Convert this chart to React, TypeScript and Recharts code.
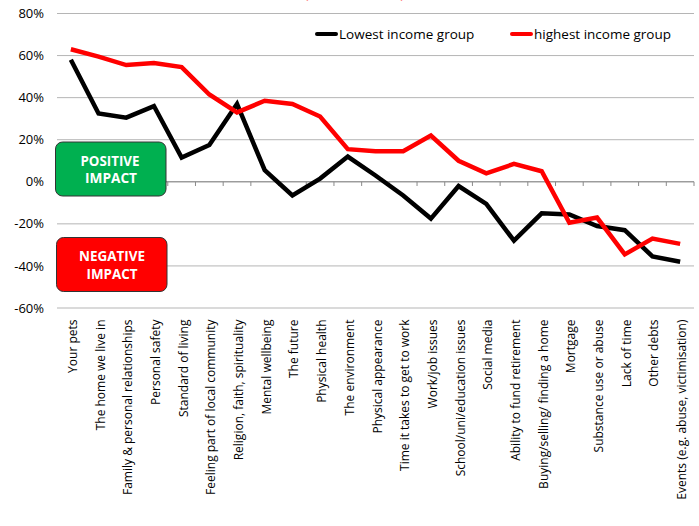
import React from 'react';
import { LineChart, Line, XAxis, YAxis, CartesianGrid, ReferenceLine } from 'recharts';

const categories = [
  'Your pets',
  'The home we live in',
  'Family & personal relationships',
  'Personal safety',
  'Standard of living',
  'Feeling part of local community',
  'Religion, faith, spirituality',
  'Mental wellbeing',
  'The future',
  'Physical health',
  'The environment',
  'Physical appearance',
  'Time it takes to get to work',
  'Work/job issues',
  'School/uni/education issues',
  'Social media',
  'Ability to fund retirement',
  'Buying/selling/ finding a home',
  'Mortgage',
  'Substance use or abuse',
  'Lack of time',
  'Other debts',
  'Events (e.g. abuse,  victimisation)',
];

const lowestIncome = [58, 32.5, 30.5, 36, 11.5, 17.5, 37, 5.5, -6.5, 1.5, 12, 3, -6.5, -17.5, -2, -10.5, -28, -15, -15.5, -21, -23, -35.5, -38];
const highestIncome = [63, 59.5, 55.5, 56.5, 54.5, 41.5, 33, 38.5, 37, 31, 15.5, 14.5, 14.5, 22, 10, 4, 8.5, 5, -19.5, -17, -34.5, -27, -29.5];

const yTicks = [-60, -40, -20, 0, 20, 40, 60, 80];
const seriesNames = ['Lowest income group', 'highest income group'];
const seriesColors = ['#000000', '#FF0000'];

const data = categories.map((name, i) => ({
  idx: i,
  name,
  lowest: lowestIncome[i],
  highest: highestIncome[i],
}));

const xTicks = categories.map((_, i) => i);
const boundaries = [...categories.map((_, i) => i - 0.5), categories.length - 0.5];

const FONT = '"Open Sans", "Noto Sans", sans-serif';

const CategoryTick = (props: any) => {
  const { x, y, payload } = props;
  return (
    <g transform={`translate(${x},${y})`}>
      <text
        transform="rotate(-90)"
        x={-3.5}
        y={6}
        textAnchor="end"
        fontSize={12}
        fontFamily={FONT}
        fill="#000"
      >
        {categories[payload.value]}
      </text>
    </g>
  );
};

const LegendItem = ({ color, label, left }: { color: string; label: string; left: number }) => (
  <div style={{ position: 'absolute', left, top: 25, display: 'flex', alignItems: 'center', height: 18 }}>
    <div style={{ width: 23, height: 4.5, background: color, borderRadius: 2 }} />
    <span style={{ fontFamily: FONT, fontSize: 13.5, color: '#000', marginLeft: 1, whiteSpace: 'nowrap' }}>{label}</span>
  </div>
);

export default function App() {
  return (
    <div style={{ position: 'absolute', left: 0, top: 0, width: 699, height: 526, background: '#fff' }}>
      <LineChart
        width={699}
        height={526}
        data={data}
        margin={{ top: 13.5, right: 5, bottom: 0, left: 0 }}
      >
        <CartesianGrid horizontal vertical={false} stroke="#b5b5b5" strokeWidth={1} />
        <XAxis
          dataKey="idx"
          type="number"
          domain={[-0.5, categories.length - 0.5]}
          ticks={xTicks}
          interval={0}
          axisLine={false}
          tickLine={false}
          height={218}
          tick={<CategoryTick />}
        />
        <YAxis
          domain={[-60, 80]}
          ticks={yTicks}
          tickFormatter={(v: number) => `${v}%`}
          width={57}
          axisLine={false}
          tickLine={false}
          tickMargin={7}
          tick={{ fontSize: 13, fill: '#000', fontFamily: FONT }}
          allowDataOverflow
        />
        <ReferenceLine y={0} stroke="#8a8a8a" strokeWidth={1} />
        {boundaries.map((b) => (
          <ReferenceLine
            key={b}
            segment={[
              { x: b, y: 0 },
              { x: b, y: -2 },
            ]}
            stroke="#8a8a8a"
            strokeWidth={1}
          />
        ))}
        <Line
          type="linear"
          dataKey="lowest"
          name={seriesNames[0]}
          stroke={seriesColors[0]}
          strokeWidth={4.5}
          dot={false}
          activeDot={false}
          isAnimationActive={false}
        />
        <Line
          type="linear"
          dataKey="highest"
          name={seriesNames[1]}
          stroke={seriesColors[1]}
          strokeWidth={4.5}
          dot={false}
          activeDot={false}
          isAnimationActive={false}
        />
      </LineChart>

      <LegendItem color={seriesColors[0]} label={seriesNames[0]} left={315} />
      <LegendItem color={seriesColors[1]} label={seriesNames[1]} left={510} />

      <svg width={699} height={526} style={{ position: 'absolute', left: 0, top: 0, pointerEvents: 'none' }}>
        <text x={304} y={-2.5} fontSize={16} fill="#FF0000" fontFamily={FONT} textLength={101} lengthAdjust="spacing">
          (Net Score)
        </text>
        <rect x={55.5} y={142} width={110.5} height={54} rx={7} fill="#00B050" stroke="#333" strokeWidth={1} />
        <text x={80.5} y={166} fontSize={13.5} fontWeight="bold" fill="#fff" fontFamily={FONT} textLength={59} lengthAdjust="spacingAndGlyphs">POSITIVE</text>
        <text x={85} y={182.5} fontSize={13.5} fontWeight="bold" fill="#fff" fontFamily={FONT} textLength={52} lengthAdjust="spacingAndGlyphs">IMPACT</text>
        <rect x={56.5} y={237.5} width={110.5} height={54} rx={7} fill="#FF0000" stroke="#333" strokeWidth={1} />
        <text x={79} y={261} fontSize={13.5} fontWeight="bold" fill="#fff" fontFamily={FONT} textLength={66} lengthAdjust="spacingAndGlyphs">NEGATIVE</text>
        <text x={86.5} y={278.5} fontSize={13.5} fontWeight="bold" fill="#fff" fontFamily={FONT} textLength={51} lengthAdjust="spacingAndGlyphs">IMPACT</text>
      </svg>
    </div>
  );
}
